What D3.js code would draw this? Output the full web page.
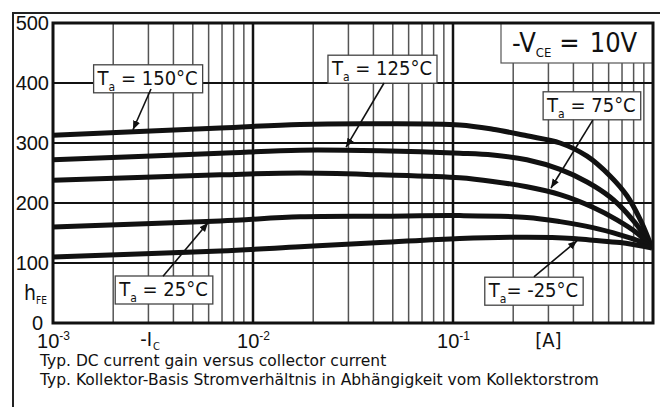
<!DOCTYPE html>
<html><head><meta charset="utf-8">
<script src="https://cdn.jsdelivr.net/npm/d3@7"></script>
<style>
body{margin:0;background:#fff;}
svg{display:block;font-family:"DejaVu Sans Condensed","DejaVu Sans",sans-serif;font-stretch:condensed;}
.cap{font-family:"DejaVu Sans",sans-serif;font-stretch:normal;}
</style></head><body>
<svg id="c" width="660" height="407"></svg>
<script>
// ---- data ----
const ta150I = [0.001, 0.00684, 0.0172, 0.0432, 0.108, 0.158, 0.234, 0.343, 0.468, 0.61, 0.741, 0.861, 0.966, 0.99];
const ta150H = [313, 325, 331, 332, 330, 323, 312, 300, 278, 245, 212, 173, 134, 125];
const ta125I = [0.001, 0.00684, 0.0172, 0.0432, 0.108, 0.158, 0.234, 0.343, 0.468, 0.61, 0.741, 0.891, 0.99];
const ta125H = [272, 283, 288, 287, 283, 280, 272, 256, 235, 210, 183, 150, 125];
const ta75I = [0.001, 0.00684, 0.0172, 0.0432, 0.108, 0.158, 0.234, 0.343, 0.5, 0.66, 0.832, 0.99];
const ta75H = [238, 247, 250, 247, 242, 236, 227, 214, 193, 172, 150, 125];
const ta25I = [0.001, 0.00684, 0.0172, 0.0432, 0.108, 0.234, 0.343, 0.5, 0.684, 0.861, 0.99];
const ta25H = [160, 170, 177, 178, 179, 176, 169, 159, 147, 136, 125];
const taM25I = [0.001, 0.00684, 0.0172, 0.0432, 0.108, 0.234, 0.398, 0.5, 0.684, 0.99];
const taM25H = [110, 120, 127, 134, 141, 143, 141, 138, 134, 125];

const yTicks = [0, 100, 200, 300, 400, 500];
const xTickValues = [1e-3, 1e-2, 1e-1];
const xTickExponents = ["-3", "-2", "-1"];

// annotation labels: text after subscript, box centre (I, h), arrow start (I, h), arrow tip (I, h)
const labelTexts = [" = 150°C", " = 125°C", " = 75°C", " = 25°C", "= -25°C"];
const labelBoxI = [0.00299, 0.0444, 0.495, 0.00359, 0.254];
const labelBoxH = [407, 423, 362, 55, 53];
const arrowFromI = [0.00309, 0.0452, 0.5, 0.00355, 0.254];
const arrowFromH = [390, 400, 338, 78, 77];
const arrowToI = [0.00251, 0.0292, 0.309, 0.00596, 0.417];
const arrowToH = [322, 293, 225, 167, 137];

const captionLines = ["Typ. DC current gain versus collector current",
  "Typ. Kollektor-Basis Stromverhältnis in Abhängigkeit vom Kollektorstrom"];

// ---- drawing ----
const svg = d3.select("#c");
const L = 53, R = 653, T = 23, B = 323;
const x = d3.scaleLog().domain([1e-3, 1]).range([L, R]);
const y = d3.scaleLinear().domain([0, 500]).range([B, T]);

// outer frame
svg.append("path").attr("d", `M13,407V13H660`).attr("fill", "none").attr("stroke", "#222").attr("stroke-width", 2);

const defs = svg.append("defs");
defs.append("clipPath").attr("id", "clip")
  .append("rect").attr("x", L).attr("y", T).attr("width", R - L).attr("height", B - T);
defs.append("marker").attr("id", "ah").attr("viewBox", "0 0 10 10").attr("refX", 10).attr("refY", 5)
  .attr("markerWidth", 9).attr("markerHeight", 9).attr("markerUnits", "userSpaceOnUse").attr("orient", "auto")
  .append("path").attr("d", "M0,1L10,5L0,9Z").attr("fill", "#111");

// grid
const grid = svg.append("g");
const minor = [];
[-3, -2, -1].forEach(k => { for (let m = 2; m <= 9; m++) minor.push(m * Math.pow(10, k)); });
grid.selectAll(".mv").data(minor).join("line").attr("class", "mv")
  .attr("x1", d => x(d)).attr("x2", d => x(d)).attr("y1", T).attr("y2", B)
  .attr("stroke", "#555").attr("stroke-width", 1.5);
grid.selectAll(".Mv").data([1e-2, 1e-1]).join("line").attr("class", "Mv")
  .attr("x1", d => x(d)).attr("x2", d => x(d)).attr("y1", T).attr("y2", B)
  .attr("stroke", "#111").attr("stroke-width", 2.5);
grid.selectAll(".h").data([100, 200, 300, 400]).join("line").attr("class", "h")
  .attr("x1", L).attr("x2", R).attr("y1", d => y(d)).attr("y2", d => y(d))
  .attr("stroke", "#111").attr("stroke-width", 2);

// curves
const series = [[ta150I, ta150H], [ta125I, ta125H], [ta75I, ta75H], [ta25I, ta25H], [taM25I, taM25H]];
const line = d3.line().x(d => x(d[0])).y(d => y(d[1])).curve(d3.curveCatmullRom.alpha(0.5));
svg.append("g").attr("clip-path", "url(#clip)").selectAll("path").data(series).join("path")
  .attr("d", s => line(s[0].map((v, i) => [v, s[1][i]])))
  .attr("fill", "none").attr("stroke", "#111").attr("stroke-width", 5).attr("stroke-linejoin", "round");

// VCE box
const vbox = svg.append("g");
vbox.append("rect").attr("x", 501).attr("y", T).attr("width", R - 501).attr("height", 40)
  .attr("fill", "#fff").attr("stroke", "#555").attr("stroke-width", 1.2);
const vt = vbox.append("text").attr("x", 512).attr("y", 52).attr("font-size", 27).attr("fill", "#111");
vt.append("tspan").text("-V");
vt.append("tspan").attr("font-size", 13).attr("dy", 5).text("CE");
vt.append("tspan").attr("dy", -5).attr("dx", 8).text("=");
vt.append("tspan").attr("dx", 10).text("10V");

// labels with arrows
const ann = svg.append("g");
labelTexts.forEach((t, i) => {
  const cx = x(labelBoxI[i]), cy = y(labelBoxH[i]);
  const g = ann.append("g");
  const rect = g.append("rect").attr("fill", "#fff").attr("stroke", "#444").attr("stroke-width", 1.3);
  const tx = g.append("text").attr("font-size", 20).attr("fill", "#111").attr("y", cy + 6);
  tx.append("tspan").text("T");
  tx.append("tspan").attr("font-size", 12).attr("dy", 6).text("a");
  tx.append("tspan").attr("dy", -6).text(t);
  const bb = tx.node().getBBox();
  tx.attr("x", cx - bb.width / 2);
  const w = bb.width + 8;
  rect.attr("x", cx - w / 2).attr("y", cy - 14).attr("width", w).attr("height", 28);
  ann.append("line").attr("x1", x(arrowFromI[i])).attr("y1", y(arrowFromH[i]))
    .attr("x2", x(arrowToI[i])).attr("y2", y(arrowToH[i]))
    .attr("stroke", "#111").attr("stroke-width", 1.6).attr("marker-end", "url(#ah)");
});

// plot border
svg.append("rect").attr("x", L).attr("y", T).attr("width", R - L).attr("height", B - T)
  .attr("fill", "none").attr("stroke", "#111").attr("stroke-width", 3);

// y axis labels
const yAx = svg.append("g").attr("transform", `translate(${L},0)`)
  .call(d3.axisLeft(y).tickValues(yTicks).tickSize(0).tickPadding(4));
yAx.select(".domain").remove();
yAx.selectAll("text").attr("font-size", 20).attr("font-family", null).attr("fill", "#111");
yAx.selectAll(".tick").filter(d => d === 0).select("text").attr("x", -10).attr("dy", "0.32em");

// x axis labels
const xAx = svg.append("g").attr("transform", `translate(0,${B})`)
  .call(d3.axisBottom(x).tickValues(xTickValues).tickSize(0).tickFormat(""));
xAx.select(".domain").remove();
xAx.selectAll(".tick text").remove();
xAx.selectAll(".tick").each(function (d, i) {
  const t = d3.select(this).append("text").attr("y", 25).attr("font-size", 20).attr("fill", "#111")
    .attr("text-anchor", "middle");
  t.append("tspan").text("10");
  t.append("tspan").attr("font-size", 12).attr("dy", -8).text(xTickExponents[i]);
});

// axis titles
const ic = svg.append("text").attr("x", x(0.00306)).attr("y", B + 23).attr("font-size", 20)
  .attr("text-anchor", "middle").attr("fill", "#111");
ic.append("tspan").text("-I");
ic.append("tspan").attr("font-size", 11).attr("dy", 4).attr("dx", 1).text("C");
svg.append("text").attr("x", x(0.3)).attr("y", B + 24).attr("font-size", 20)
  .attr("text-anchor", "middle").attr("fill", "#111").text("[A]");
const hf = svg.append("text").attr("x", 24).attr("y", 300).attr("font-size", 21).attr("fill", "#111");
hf.append("tspan").text("h");
hf.append("tspan").attr("font-size", 10).attr("dy", 4).text("FE");

// caption
svg.selectAll(".cap").data(captionLines).join("text").attr("class", "cap")
  .attr("x", 40).attr("y", (d, i) => 366 + i * 19).attr("font-size", 15.5).attr("fill", "#111").text(d => d);
</script></body></html>
